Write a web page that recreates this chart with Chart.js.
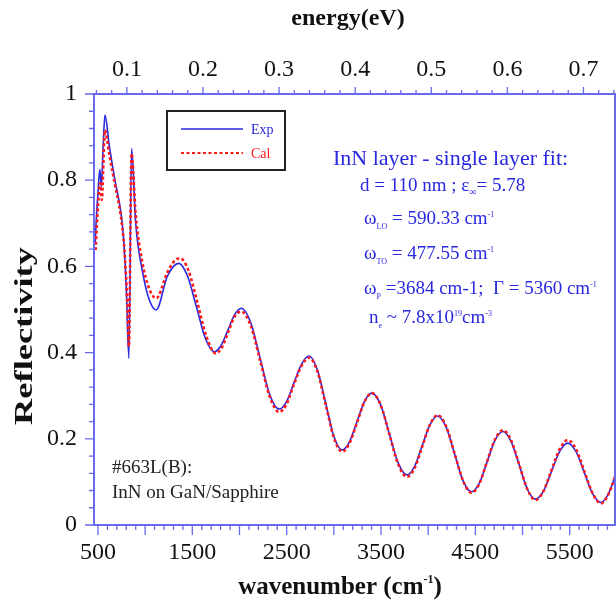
<!DOCTYPE html>
<html>
<head>
<meta charset="utf-8">
<script src="https://cdn.jsdelivr.net/npm/chart.js@4.4.1/dist/chart.umd.min.js"></script>
<style>
  html, body { margin: 0; padding: 0; background: #fff; }
  #wrap { width: 616px; height: 605px; }
</style>
</head>
<body>
<div id="wrap"><canvas id="grafico" width="616" height="605"></canvas></div>
<script>
// datos
const wnExp = [470, 485, 500, 520, 536, 555, 574, 620, 680, 740, 770, 800, 828, 856, 900, 970, 1040, 1117, 1233, 1300, 1356,
  1450, 1545, 1640, 1734, 1806, 1877, 1948, 2020, 2120, 2220, 2320, 2420, 2500, 2579, 2659, 2738, 2825, 2913, 3000, 3087,
  3166, 3246, 3325, 3404, 3497, 3589, 3682, 3774, 3856, 3938, 4019, 4101, 4190, 4280, 4369, 4458, 4542, 4625, 4709, 4792,
  4878, 4965, 5051, 5137, 5223, 5308, 5394, 5479, 5567, 5656, 5744, 5832, 5900, 5940, 5980];
const refExp = [0.655, 0.72, 0.77, 0.825, 0.785, 0.88, 0.951, 0.88, 0.80, 0.73, 0.67, 0.55, 0.387, 0.874, 0.70, 0.59, 0.525, 0.499, 0.576, 0.60, 0.607,
  0.577, 0.505, 0.432, 0.402, 0.417, 0.452, 0.488, 0.503, 0.469, 0.386, 0.303, 0.269, 0.287, 0.331, 0.374, 0.392, 0.360, 0.283, 0.206, 0.174,
  0.193, 0.240, 0.287, 0.306, 0.278, 0.211, 0.144, 0.116, 0.136, 0.185, 0.233, 0.253, 0.227, 0.165, 0.103, 0.077, 0.097, 0.147, 0.197, 0.217,
  0.194, 0.139, 0.083, 0.060, 0.079, 0.125, 0.171, 0.190, 0.170, 0.121, 0.072, 0.052, 0.068, 0.088, 0.112];

const wnCal = [475, 500, 525, 540, 574, 620, 680, 740, 780, 810, 828, 856, 900, 970, 1040, 1117, 1233, 1300, 1370,
  1460, 1555, 1650, 1750, 1818, 1885, 1952, 2020, 2120, 2220, 2320, 2420, 2500, 2579, 2659, 2738, 2825, 2913, 3000, 3087,
  3166, 3246, 3325, 3404, 3497, 3589, 3682, 3774, 3856, 3938, 4019, 4101, 4190, 4280, 4369, 4458, 4542, 4625, 4709, 4792,
  4878, 4965, 5051, 5137, 5223, 5308, 5394, 5479, 5567, 5656, 5744, 5832, 5900, 5940, 5980];
const refCal = [0.638, 0.74, 0.793, 0.754, 0.916, 0.86, 0.79, 0.72, 0.64, 0.52, 0.414, 0.862, 0.72, 0.61, 0.55, 0.526, 0.585, 0.61, 0.619,
  0.59, 0.515, 0.437, 0.398, 0.414, 0.45, 0.485, 0.495, 0.462, 0.381, 0.298, 0.262, 0.281, 0.327, 0.370, 0.388, 0.357, 0.280, 0.203, 0.170,
  0.190, 0.238, 0.286, 0.306, 0.278, 0.210, 0.141, 0.112, 0.132, 0.183, 0.233, 0.255, 0.229, 0.166, 0.103, 0.075, 0.096, 0.148, 0.199, 0.220,
  0.197, 0.140, 0.083, 0.058, 0.079, 0.128, 0.176, 0.197, 0.176, 0.124, 0.073, 0.050, 0.067, 0.087, 0.112];

const wnTicks = [500, 1500, 2500, 3500, 4500, 5500];
const energyTicks = [0.1, 0.2, 0.3, 0.4, 0.5, 0.6, 0.7];
const reflTicks = [0, 0.2, 0.4, 0.6, 0.8, 1];

const CM_POR_EV = 8065.54;
const X_MIN = 458, X_MAX = 5980;

const SERIF = '"Liberation Serif", "DejaVu Serif", serif';
const AZUL = 'rgb(40,40,225)';
const ROJO = 'rgb(255,25,25)';
const EJE = 'rgb(105,105,235)';

// dibuja texto con sub/superindices: partes = [texto, tamaño, dy]
function textoRico(ctx, x, y, partes, color, bold) {
  ctx.fillStyle = color;
  ctx.textBaseline = 'alphabetic';
  ctx.textAlign = 'left';
  for (const [t, size, dy] of partes) {
    ctx.font = (bold ? 'bold ' : '') + size + 'px ' + SERIF;
    ctx.fillText(t, x, y + dy);
    x += ctx.measureText(t).width;
  }
}
function anchoRico(ctx, partes, bold) {
  let w = 0;
  for (const [t, size] of partes) {
    ctx.font = (bold ? 'bold ' : '') + size + 'px ' + SERIF;
    w += ctx.measureText(t).width;
  }
  return w;
}

const marcasYTextos = {
  id: 'marcasYTextos',
  afterDraw(chart) {
    const ctx = chart.ctx;
    const a = chart.chartArea;
    const sx = chart.scales.x, sy = chart.scales.y;
    ctx.save();

    // marco y marcas
    ctx.strokeStyle = EJE;
    ctx.lineWidth = 2;
    ctx.strokeRect(a.left, a.top, a.right - a.left, a.bottom - a.top);
    ctx.lineWidth = 1.3;
    ctx.beginPath();
    for (let v = 500; v <= X_MAX; v += 100) {
      const px = sx.getPixelForValue(v);
      const len = v % 500 === 0 ? 10 : 5;
      ctx.moveTo(px, a.bottom); ctx.lineTo(px, a.bottom + len);
    }
    for (let i = 3; i <= 37; i++) {
      const e = i * 0.02;
      const px = sx.getPixelForValue(e * CM_POR_EV);
      if (px < a.left || px > a.right) continue;
      const len = i % 5 === 0 ? 7 : 4;
      ctx.moveTo(px, a.top); ctx.lineTo(px, a.top - len);
    }
    for (let i = 0; i <= 25; i++) {
      const py = sy.getPixelForValue(i * 0.04);
      const len = i % 5 === 0 ? 9 : 5;
      ctx.moveTo(a.left, py); ctx.lineTo(a.left - len, py);
    }
    ctx.stroke();

    // leyenda
    ctx.strokeStyle = '#222';
    ctx.lineWidth = 2;
    ctx.strokeRect(167, 111, 118, 59);
    ctx.lineWidth = 1.5;
    ctx.strokeStyle = AZUL;
    ctx.beginPath(); ctx.moveTo(181, 129); ctx.lineTo(243, 129); ctx.stroke();
    ctx.strokeStyle = ROJO;
    ctx.lineWidth = 2.2;
    ctx.setLineDash([3, 2.5]);
    ctx.beginPath(); ctx.moveTo(181, 153); ctx.lineTo(243, 153); ctx.stroke();
    ctx.setLineDash([]);
    textoRico(ctx, 251, 134, [['Exp', 14, 0]], AZUL);
    textoRico(ctx, 251, 158, [['Cal', 14, 0]], ROJO);

    // anotaciones
    textoRico(ctx, 333, 165, [['InN layer - single layer fit:', 22, 0]], AZUL);
    textoRico(ctx, 360, 191, [['d = 110 nm ; ε', 19, 0], ['∞', 10, 4], ['= 5.78', 19, 0]], AZUL);
    textoRico(ctx, 364, 224, [['ω', 19, 0], ['LO', 8, 5], [' = 590.33 cm', 19, 0], ['-1', 8, -7]], AZUL);
    textoRico(ctx, 364, 259, [['ω', 19, 0], ['TO', 8, 5], [' = 477.55 cm', 19, 0], ['-1', 8, -7]], AZUL);
    textoRico(ctx, 364, 294, [['ω', 19, 0], ['P', 8, 5], [' =3684 cm-1;  Γ = 5360 cm', 19, 0], ['-1', 8, -7]], AZUL);
    textoRico(ctx, 369, 323, [['n', 19, 0], ['e', 8, 5], [' ~ 7.8x10', 19, 0], ['19', 8, -7], ['cm', 19, 0], ['-3', 8, -7]], AZUL);

    textoRico(ctx, 112, 473, [['#663L(B):', 19, 0]], '#222');
    textoRico(ctx, 112, 498, [['InN on GaN/Sapphire', 19, 0]], '#222');

    // titulos de ejes
    const tTop = [['energy(eV)', 24, 0]];
    textoRico(ctx, 348 - anchoRico(ctx, tTop, true) / 2, 25, tTop, '#111', true);
    const tBot = [['wavenumber (cm', 25, 0], ['-1', 12, -11], [')', 25, 0]];
    textoRico(ctx, 340 - anchoRico(ctx, tBot, true) / 2, 594, tBot, '#111', true);
    ctx.translate(32, 336);
    ctx.rotate(-Math.PI / 2);
    ctx.scale(1.4, 1);
    const tY = [['Reflectivity', 26, 0]];
    textoRico(ctx, -anchoRico(ctx, tY, true) / 2, 0, tY, '#111', true);

    ctx.restore();
  }
};

const ctx = document.getElementById('grafico').getContext('2d');
new Chart(ctx, {
  type: 'line',
  data: {
    datasets: [{
      label: 'Exp',
      data: wnExp.map((x, i) => ({ x: x, y: refExp[i] })),
      borderColor: AZUL,
      borderWidth: 1.6,
      pointRadius: 0,
      cubicInterpolationMode: 'monotone',
      order: 1
    }, {
      label: 'Cal',
      data: wnCal.map((x, i) => ({ x: x, y: refCal[i] })),
      borderColor: ROJO,
      borderWidth: 2.6,
      borderDash: [3, 2.5],
      pointRadius: 0,
      cubicInterpolationMode: 'monotone',
      order: 0
    }]
  },
  options: {
    responsive: false,
    animation: false,
    devicePixelRatio: 1,
    layout: { padding: { right: 1 } },
    plugins: { legend: { display: false }, tooltip: { enabled: false } },
    scales: {
      x: {
        type: 'linear',
        position: 'bottom',
        min: X_MIN,
        max: X_MAX,
        afterBuildTicks: s => { s.ticks = wnTicks.map(v => ({ value: v })); },
        afterFit: s => { s.height = 80; },
        grid: { display: false },
        border: { display: false },
        ticks: { color: '#111', padding: 5, maxRotation: 0, autoSkip: false, callback: v => String(v), font: { family: SERIF, size: 24 } }
      },
      x2: {
        type: 'linear',
        position: 'top',
        min: X_MIN / CM_POR_EV,
        max: X_MAX / CM_POR_EV,
        afterBuildTicks: s => { s.ticks = energyTicks.map(v => ({ value: v })); },
        afterFit: s => { s.height = 94; },
        grid: { display: false },
        border: { display: false },
        ticks: { color: '#111', padding: 2, maxRotation: 0, autoSkip: false, callback: v => v.toFixed(1), font: { family: SERIF, size: 24 } }
      },
      y: {
        type: 'linear',
        min: 0,
        max: 1,
        afterBuildTicks: s => { s.ticks = reflTicks.map(v => ({ value: v })); },
        afterFit: s => { s.width = 94; },
        grid: { display: false },
        border: { display: false },
        ticks: { color: '#111', padding: 9, callback: v => (v === 0 || v === 1) ? String(v) : v.toFixed(1), font: { family: SERIF, size: 24 } }
      }
    }
  },
  plugins: [marcasYTextos]
});
</script>
</body>
</html>
